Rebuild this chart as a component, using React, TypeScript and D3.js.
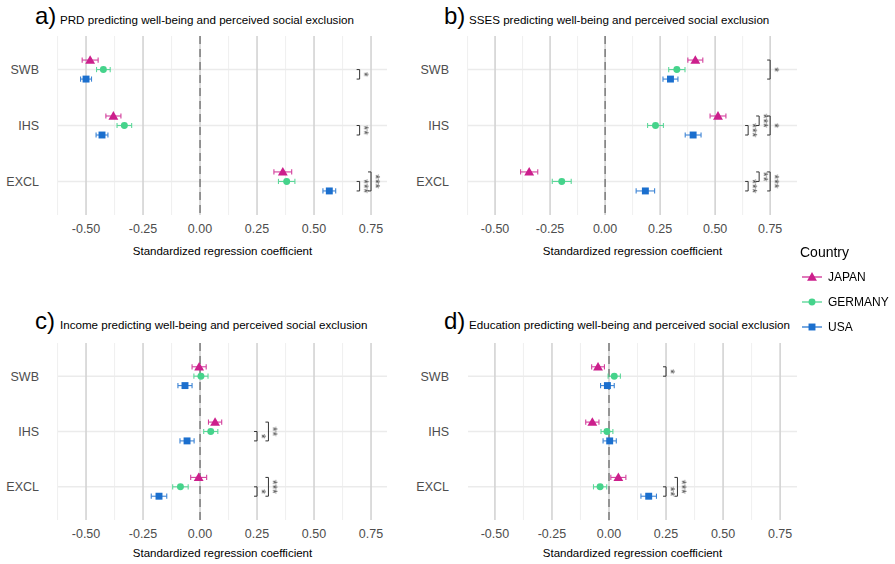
import React from "react";
import * as d3 from "d3";

// outcome rows and countries
const outcomes = ["SWB", "IHS", "EXCL"];
const countries = ["JAPAN", "GERMANY", "USA"];
const countryColors = ["#cc1f8c", "#45d38b", "#1b6fce"];
const xTicks = [-0.5, -0.25, 0, 0.25, 0.5, 0.75];
const xMinor = [-0.625, -0.375, -0.125, 0.125, 0.375, 0.625, 0.875];

// estimates: one array per country, in outcome order
const prdEst = [[-0.482, -0.38, 0.363], [-0.424, -0.332, 0.38], [-0.5, -0.43, 0.567]];
const prdErr = [[0.035, 0.033, 0.039], [0.03, 0.032, 0.036], [0.024, 0.026, 0.028]];
const prdSig = [
  ["SWB", "GERMANY", "USA", 0.7, "*"],
  ["IHS", "GERMANY", "USA", 0.7, "**"],
  ["EXCL", "GERMANY", "USA", 0.7, "***"],
  ["EXCL", "JAPAN", "USA", 0.75, "***"],
];

const ssesEst = [[0.41, 0.513, -0.345], [0.326, 0.229, -0.197], [0.297, 0.4, 0.183]];
const ssesErr = [[0.034, 0.036, 0.039], [0.037, 0.036, 0.043], [0.034, 0.036, 0.042]];
const ssesSig = [
  ["SWB", "JAPAN", "USA", 0.75, "*"],
  ["IHS", "GERMANY", "USA", 0.65, "***"],
  ["IHS", "JAPAN", "GERMANY", 0.7, "***"],
  ["IHS", "JAPAN", "USA", 0.75, "*"],
  ["EXCL", "GERMANY", "USA", 0.65, "***"],
  ["EXCL", "JAPAN", "GERMANY", 0.7, "**"],
  ["EXCL", "JAPAN", "USA", 0.75, "***"],
];

const incomeEst = [[-0.004, 0.066, -0.006], [0.004, 0.047, -0.086], [-0.066, -0.057, -0.18]];
const incomeErr = [[0.031, 0.029, 0.035], [0.031, 0.031, 0.034], [0.031, 0.031, 0.034]];
const incomeSig = [
  ["IHS", "GERMANY", "USA", 0.25, "*"],
  ["IHS", "JAPAN", "USA", 0.3, "**"],
  ["EXCL", "GERMANY", "USA", 0.25, "*"],
  ["EXCL", "JAPAN", "USA", 0.3, "***"],
];

const eduEst = [[-0.048, -0.073, 0.041], [0.023, -0.009, -0.039], [-0.007, 0.003, 0.174]];
const eduErr = [[0.028, 0.029, 0.033], [0.027, 0.026, 0.029], [0.03, 0.029, 0.034]];
const eduSig = [
  ["SWB", "JAPAN", "GERMANY", 0.25, "*"],
  ["EXCL", "GERMANY", "USA", 0.25, "**"],
  ["EXCL", "JAPAN", "USA", 0.3, "***"],
];

const FONT = "'Liberation Sans', Arial, Helvetica, sans-serif";
const fmt = d3.formatLocale({ decimal: ".", thousands: ",", grouping: [3], currency: ["", ""], minus: "-" }).format(".2f");
const symbols = [d3.symbolTriangle, d3.symbolCircle, d3.symbolSquare];
const symbolSizes = [42, 38, 48];

const Marker = ({ i, x, y }) => (
  <path
    d={d3.symbol(symbols[i], symbolSizes[i])() as string}
    transform={`translate(${x},${y + (i === 0 ? 0.8 : 0)})`}
    fill={countryColors[i]}
  />
);

const Panel = ({ tag, title, est, err, sig, x0, x1, y0, y1, domain, labelX, titleY, axisTitleY }) => {
  const x = d3.scaleLinear().domain(domain).range([x0, x1]);
  const y = d3.scalePoint().domain(outcomes).range([y0, y1]).padding(0.6);
  const dodge = y.step() * 0.17;
  const yOf = (row, c) => (y(row) as number) + (countries.indexOf(c) - 1) * dodge;
  return (
    <g fontFamily={FONT}>
      <text x={labelX} y={titleY} fontSize={24} fill="#000">{tag}</text>
      <text x={labelX + 25} y={titleY} fontSize={11.6} fill="#000">{title}</text>
      {xMinor.filter(v => x(v) >= x0 - 0.5 && x(v) <= x1 + 0.5).map(v => (
        <line key={"m" + v} x1={x(v)} x2={x(v)} y1={y0} y2={y1} stroke="#ebebeb" strokeWidth={0.8} />
      ))}
      {outcomes.map(r => (
        <line key={r} x1={x0} x2={x1} y1={y(r)} y2={y(r)} stroke="#ebebeb" strokeWidth={1.6} />
      ))}
      {xTicks.map(v => (
        <line key={"t" + v} x1={x(v)} x2={x(v)} y1={y0} y2={y1} stroke="#d3d3d3" strokeWidth={1.6} />
      ))}
      <line x1={x(0)} x2={x(0)} y1={y0} y2={y1} stroke="#6e6e6e" strokeWidth={1.3} strokeDasharray="8,5" />
      {outcomes.map(r => (
        <text key={"l" + r} x={x0 - 19} y={y(r)} dy="0.35em" textAnchor="end" fontSize={12.5} fill="#4d4d4d">{r}</text>
      ))}
      {xTicks.map(v => (
        <text key={"x" + v} x={x(v)} y={y1 + 18} textAnchor="middle" fontSize={12.5} fill="#4d4d4d">{fmt(v)}</text>
      ))}
      <text x={(x0 + x1) / 2} y={axisTitleY} textAnchor="middle" fontSize={11.5} fill="#000">
        Standardized regression coefficient
      </text>
      {countries.map((c, i) =>
        outcomes.map((r, j) => {
          const cy = yOf(r, c);
          const lo = x(est[i][j] - err[i][j]);
          const hi = x(est[i][j] + err[i][j]);
          return (
            <g key={c + r}>
              <g stroke={countryColors[i]} strokeWidth={1.1} opacity={0.85}>
                <line x1={lo} x2={hi} y1={cy} y2={cy} />
                <line x1={lo} x2={lo} y1={cy - 2.6} y2={cy + 2.6} />
                <line x1={hi} x2={hi} y1={cy - 2.6} y2={cy + 2.6} />
              </g>
              <Marker i={i} x={x(est[i][j])} y={cy} />
            </g>
          );
        })
      )}
      {sig.map(([r, a, b, bx, lab], k) => {
        const ya = yOf(r, a);
        const yb = yOf(r, b);
        const px = x(bx);
        const mid = (ya + yb) / 2;
        return (
          <g key={"s" + k}>
            <path d={`M${px - 3},${ya}H${px}V${yb}H${px - 3}`} fill="none" stroke="#333" strokeWidth={1} />
            <text
              transform={`translate(${px + 7},${mid}) rotate(90)`}
              textAnchor="middle"
              dy="0.62em"
              fontSize={12}
              fill="#333"
              opacity={0.99}
              style={{ willChange: "transform" }}
            >{lab}</text>
          </g>
        );
      })}
    </g>
  );
};

const Legend = () => (
  <g fontFamily={FONT}>
    <text x={800} y={257} fontSize={14} fill="#000">Country</text>
    {countries.map((c, i) => (
      <g key={c} transform={`translate(0,${277 + i * 25})`}>
        <line x1={802} x2={822} y1={0} y2={0} stroke={countryColors[i]} strokeWidth={1.2} />
        <Marker i={i} x={812} y={0} />
        <text x={828} y={0} dy="0.35em" fontSize={12} fill="#000">{c}</text>
      </g>
    ))}
  </g>
);

export default function App() {
  return (
    <svg width={895} height={564} style={{ position: "absolute", left: 0, top: 0, background: "#fff" }}>
      <Panel tag="a)" title="PRD predicting well-being and perceived social exclusion"
        est={prdEst} err={prdErr} sig={prdSig} titleY={24} axisTitleY={255}
        x0={58} x1={387} y0={36} y1={215} domain={[-0.623, 0.82]} labelX={35} />
      <Panel tag="b)" title="SSES predicting well-being and perceived social exclusion"
        est={ssesEst} err={ssesErr} sig={ssesSig} titleY={24} axisTitleY={255}
        x0={468} x1={797} y0={36} y1={215} domain={[-0.623, 0.872]} labelX={444} />
      <Panel tag="c)" title="Income predicting well-being and perceived social exclusion"
        est={incomeEst} err={incomeErr} sig={incomeSig} titleY={329} axisTitleY={557}
        x0={58} x1={387} y0={343} y1={520} domain={[-0.623, 0.82]} labelX={35} />
      <Panel tag="d)" title="Education predicting well-being and perceived social exclusion"
        est={eduEst} err={eduErr} sig={eduSig} titleY={329} axisTitleY={557}
        x0={468} x1={797} y0={343} y1={520} domain={[-0.618, 0.824]} labelX={444} />
      <Legend />
    </svg>
  );
}
